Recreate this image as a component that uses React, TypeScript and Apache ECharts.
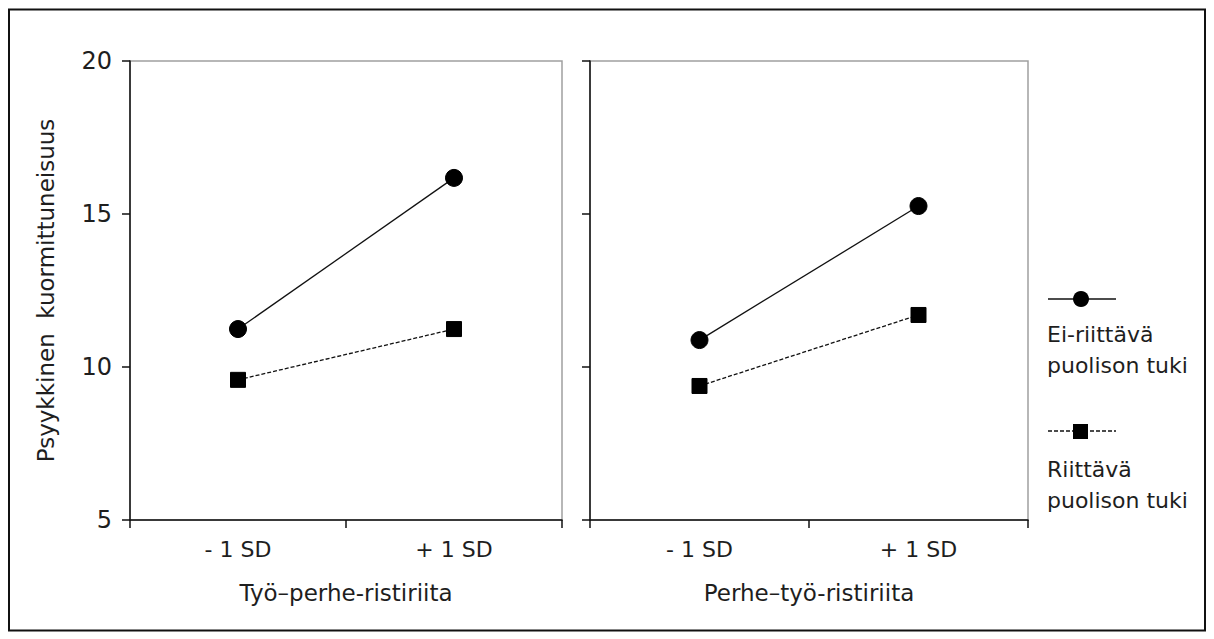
import React, { useEffect, useRef } from "react";
import * as echarts from "echarts";

const categories = ["- 1 SD", "+ 1 SD"];
const panelTitles = ["Työ–perhe-ristiriita", "Perhe–työ-ristiriita"];
const yTitle = "Psyykkinen  kuormittuneisuus";
const seriesNames = ["Ei-riittävä puolison tuki", "Riittävä puolison tuki"];
// panel 1 (Työ–perhe-ristiriita)
const p1Insufficient = [11.24, 16.18];
const p1Sufficient = [9.58, 11.24];
// panel 2 (Perhe–työ-ristiriita)
const p2Insufficient = [10.88, 15.26];
const p2Sufficient = [9.38, 11.7];
const yTicks = { min: 5, max: 20, interval: 5 };

const FONT = "'DejaVu Sans', sans-serif";
const TXT = "#1e1e1e";

export default function App() {
  const ref = useRef<HTMLDivElement>(null);
  useEffect(() => {
    if (!ref.current) return;
    const chart = echarts.init(ref.current, null, { renderer: "svg" });
    const grids = [
      { left: 130, top: 61, width: 432, height: 459 },
      { left: 590, top: 61, width: 438, height: 459 },
    ];
    const xAxis = [0, 1].map((i) => ({
      type: "category",
      gridIndex: i,
      data: categories,
      boundaryGap: true,
      name: panelTitles[i],
      nameLocation: "middle",
      nameGap: 61,
      nameTextStyle: { fontFamily: FONT, fontSize: 23, color: TXT },
      axisLine: { show: true, lineStyle: { color: "#111", width: 1.5 } },
      axisTick: { show: true, inside: false, length: 8, alignWithLabel: false, lineStyle: { color: "#111", width: 1.5 } },
      axisLabel: { fontFamily: FONT, fontSize: 22, color: TXT, margin: 18 },
      splitLine: { show: false },
    }));
    const yAxis = [0, 1].map((i) => ({
      type: "value",
      gridIndex: i,
      min: yTicks.min,
      max: yTicks.max,
      interval: yTicks.interval,
      name: i === 0 ? yTitle : "",
      nameLocation: "middle",
      nameGap: 73,
      nameRotate: 90,
      nameTextStyle: { fontFamily: FONT, fontSize: 23, color: TXT },
      axisLine: { show: true, lineStyle: { color: "#111", width: 1.5 } },
      axisTick: { show: true, inside: false, length: 8, lineStyle: { color: "#111", width: 1.5 } },
      axisLabel: { show: i === 0, fontFamily: FONT, fontSize: 24, color: TXT, margin: 18 },
      splitLine: { show: false },
    }));
    const mk = (data: number[], idx: number, kind: "circle" | "rect") => ({
      type: "line",
      xAxisIndex: idx,
      yAxisIndex: idx,
      data,
      symbol: kind,
      symbolSize: kind === "circle" ? 17 : 15,
      lineStyle: { color: "#111", width: 1.3, type: kind === "circle" ? "solid" : [4, 2] },
      itemStyle: { color: "#000", borderColor: "#000" },
      z: 3,
    });
    chart.setOption({
      animation: false,
      backgroundColor: "#fff",
      grid: grids.map((g) => ({ ...g, show: true, borderColor: "#a0a0a0", borderWidth: 1.5, backgroundColor: "transparent" })),
      xAxis,
      yAxis,
      series: [
        { ...mk(p1Insufficient, 0, "circle"), name: seriesNames[0] },
        { ...mk(p1Sufficient, 0, "rect"), name: seriesNames[1] },
        { ...mk(p2Insufficient, 1, "circle"), name: seriesNames[0] },
        { ...mk(p2Sufficient, 1, "rect"), name: seriesNames[1] },
      ],
      graphic: [
        {
          type: "rect",
          shape: { x: 9, y: 9.5, width: 1196, height: 621 },
          style: { fill: "none", stroke: "#111", lineWidth: 2 },
          silent: true,
        },
        { type: "line", shape: { x1: 1048, y1: 299, x2: 1116, y2: 299 }, style: { stroke: "#111", lineWidth: 1.5 } },
        { type: "circle", shape: { cx: 1081, cy: 299, r: 8 }, style: { fill: "#000" } },
        {
          type: "text",
          style: { x: 1047, y: 319, text: "Ei-riittävä\npuolison tuki", fontFamily: FONT, fontSize: 22, lineHeight: 31, fill: TXT },
        },
        { type: "line", shape: { x1: 1048, y1: 431, x2: 1116, y2: 431 }, style: { stroke: "#111", lineWidth: 1.3, lineDash: [4, 2] } },
        { type: "rect", shape: { x: 1073, y: 424, width: 15, height: 15 }, style: { fill: "#000" } },
        {
          type: "text",
          style: { x: 1047, y: 454, text: "Riittävä\npuolison tuki", fontFamily: FONT, fontSize: 22, lineHeight: 31, fill: TXT },
        },
      ],
    });
    return () => chart.dispose();
  }, []);
  return <div ref={ref} style={{ position: "fixed", left: 0, top: 0, width: 1214, height: 639 }} />;
}
